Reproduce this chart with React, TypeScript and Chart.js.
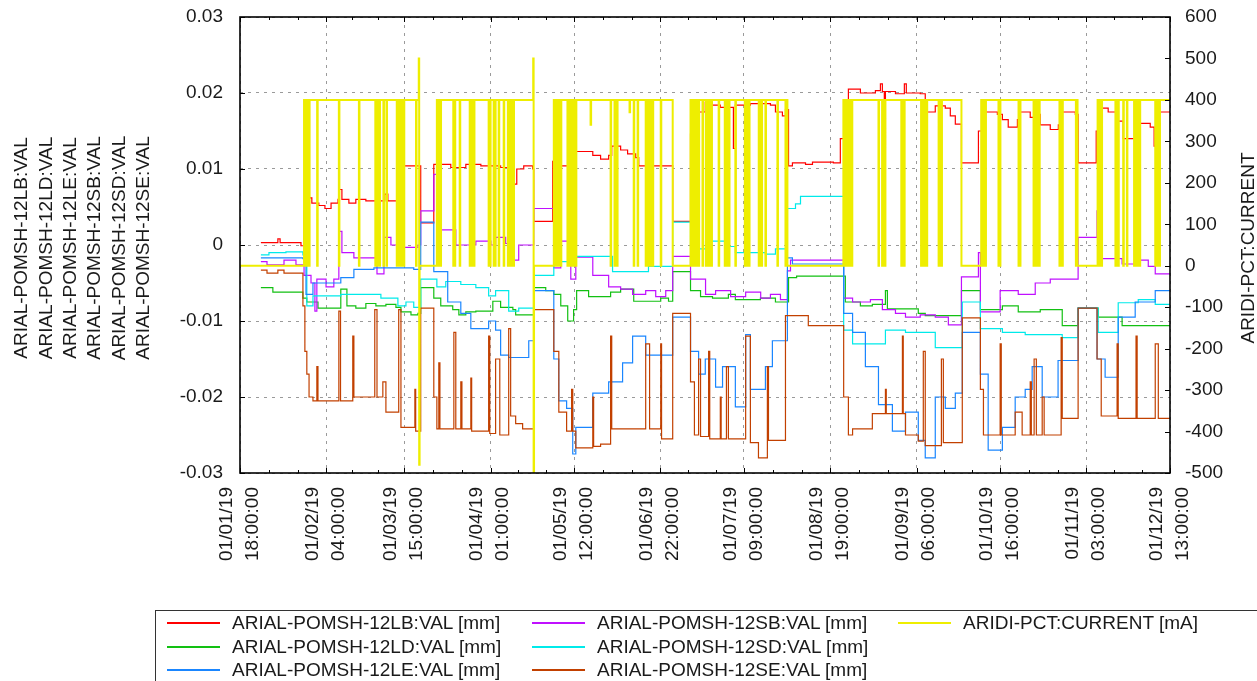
import React, { useEffect, useRef } from 'react';
import { Chart, registerables } from 'chart.js';

Chart.register(...registerables);

// ---------- tick labels (x axis: day of year 2019) ----------
const tickDays = [0, 31, 59, 90, 120, 151, 181, 212, 243, 273, 304, 334];
const tickDates = ['01/01/19', '01/02/19', '01/03/19', '01/04/19', '01/05/19', '01/06/19', '01/07/19', '01/08/19', '01/09/19', '01/10/19', '01/11/19', '01/12/19'];
const tickTimes = ['18:00:00', '04:00:00', '15:00:00', '01:00:00', '12:00:00', '22:00:00', '09:00:00', '19:00:00', '06:00:00', '16:00:00', '03:00:00', '13:00:00'];

const leftTitleLines = ['ARIAL-POMSH-12LB:VAL', 'ARIAL-POMSH-12LD:VAL', 'ARIAL-POMSH-12LE:VAL', 'ARIAL-POMSH-12SB:VAL', 'ARIAL-POMSH-12SD:VAL', 'ARIAL-POMSH-12SE:VAL'];
const rightTitle = 'ARIDI-PCT:CURRENT';

// ---------- series (day, mm) ----------
const lbPoints: [number, number][] = [
  [7.5, 0.0003], [13.6, 0.0008], [14.4, 0.0003], [21.9, -0.0001], [23.0, 0.0045], [24.0, 0.0062], [25.8, 0.0055], [28.3, 0.0052], [30.5, 0.0048], [32.7, 0.0055], [35.2, 0.0060], [35.5, 0.0073], [36.6, 0.0060], [39.1, 0.0055], [41.6, 0.0060], [45.2, 0.0058], [48.8, 0.0067], [49.9, 0.0058], [52.0, 0.0067], [53.1, 0.0058], [58.8, 0.0104], [64.9, 0.0029], [69.6, 0.0106], [75.7, 0.0102], [81.1, 0.0106], [86.5, 0.0104], [93.6, 0.0102], [98.3, 0.0080], [99.4, 0.0100], [101.9, 0.0104], [105.1, 0.0100], [105.5, 0.0031], [112.3, 0.0110], [114.5, 0.0104], [117.7, 0.0075], [118.4, 0.0104], [120.6, 0.0123], [126.7, 0.0118], [129.5, 0.0113], [132.4, 0.0118], [133.5, 0.0130], [136.7, 0.0125], [139.2, 0.0120], [142.1, 0.0115], [143.2, 0.0104], [155.4, 0.0031], [161.8, 0.0146], [164.3, 0.0175], [167.1, 0.0188], [169.6, 0.0184], [172.5, 0.0181], [177.2, 0.0127], [177.9, 0.0184], [183.3, 0.0186], [190.5, 0.0184], [192.3, 0.0175], [194.8, 0.0170], [195.9, 0.0178], [197.0, 0.0104], [198.4, 0.0108], [203.1, 0.0106], [205.6, 0.0109], [213.1, 0.0108], [215.6, 0.0140], [216.8, 0.0185], [218.5, 0.0205], [222.8, 0.0200], [228.2, 0.0203], [230.0, 0.0212], [230.7, 0.0202], [231.4, 0.0123], [231.8, 0.0202], [235.4, 0.0199], [238.6, 0.0212], [239.3, 0.0200], [244.3, 0.0199], [246.1, 0.0175], [249.7, 0.0183], [253.3, 0.0180], [255.1, 0.0170], [256.9, 0.0159], [259.1, 0.0108], [265.2, 0.0150], [266.6, 0.0160], [267.7, 0.0175], [272.0, 0.0172], [273.8, 0.0165], [275.9, 0.0155], [279.2, 0.0165], [280.2, 0.0175], [283.8, 0.0168], [285.2, 0.0140], [286.0, 0.0172], [287.4, 0.0158], [291.0, 0.0152], [293.9, 0.0158], [295.3, 0.0175], [300.0, 0.0172], [301.0, 0.0108], [307.5, 0.0150], [308.6, 0.0180], [311.8, 0.0175], [315.0, 0.0163], [317.2, 0.0140], [321.8, 0.0140], [322.6, 0.0160], [326.9, 0.0155], [328.3, 0.0130], [329.0, 0.0158], [330.1, 0.0175], [334, 0.0175],
];

const ldPoints: [number, number][] = [
  [7.5, -0.0056], [11.8, -0.0062], [22.6, -0.0070], [24.0, -0.0075], [28.0, -0.0083], [36.2, -0.0058], [38.4, -0.0080], [41.6, -0.0083], [45.2, -0.0077], [48.8, -0.0080], [52.4, -0.0078], [56.0, -0.0082], [57.8, -0.0088], [61.4, -0.0092], [63.9, -0.0090], [64.9, -0.0056], [69.6, -0.0070], [72.1, -0.0080], [76.4, -0.0085], [78.6, -0.0092], [81.1, -0.0088], [84.7, -0.0087], [90.8, -0.0074], [93.6, -0.0082], [98.0, -0.0085], [99.0, -0.0092], [105.5, -0.0056], [109.8, -0.0060], [112.7, -0.0065], [115.2, -0.0080], [117.7, -0.0100], [119.8, -0.0085], [120.9, -0.0060], [125.2, -0.0068], [133.1, -0.0062], [136.7, -0.0058], [141.4, -0.0074], [151.1, -0.0070], [153.9, -0.0074], [155.4, -0.0035], [161.8, -0.0060], [165.4, -0.0068], [169.7, -0.0070], [175.4, -0.0065], [177.9, -0.0072], [186.9, -0.0070], [192.3, -0.0075], [197.0, -0.0043], [199.9, -0.0041], [213.1, -0.0041], [217.4, -0.0075], [222.8, -0.0080], [227.1, -0.0078], [231.8, -0.0060], [232.5, -0.0084], [243.6, -0.0090], [246.1, -0.0093], [259.1, -0.0060], [265.9, -0.0085], [273.8, -0.0080], [279.5, -0.0088], [287.4, -0.0085], [295.3, -0.0106], [301.0, -0.0083], [308.2, -0.0095], [316.8, -0.0106], [334, -0.0106],
];

const lePoints: [number, number][] = [
  [7.5, -0.0017], [22.6, -0.0018], [23.7, -0.0065], [26.2, -0.0050], [36.2, -0.0043], [40.9, -0.0032], [48.1, -0.0030], [56.7, -0.0030], [62.4, -0.0032], [64.9, 0.0030], [69.6, -0.0035], [74.6, -0.0075], [79.3, -0.0090], [82.9, -0.0110], [89.3, -0.0100], [91.8, -0.0112], [93.6, -0.0145], [96.5, -0.0148], [103.7, -0.0126], [105.5, -0.0060], [112.7, -0.0150], [114.5, -0.0205], [117.3, -0.0215], [119.5, -0.0275], [120.6, -0.0240], [126.7, -0.0195], [132.4, -0.0180], [137.4, -0.0155], [141.0, -0.0120], [145.7, -0.0145], [155.4, -0.0095], [161.8, -0.0140], [164.7, -0.0170], [167.1, -0.0150], [170.8, -0.0187], [173.3, -0.0160], [177.9, -0.0213], [181.6, -0.0118], [183.3, -0.0190], [188.7, -0.0160], [191.2, -0.0126], [196.6, -0.0017], [198.4, -0.0025], [213.1, -0.0025], [216.8, -0.0090], [220.0, -0.0115], [224.6, -0.0160], [229.3, -0.0210], [234.3, -0.0245], [239.0, -0.0220], [243.6, -0.0257], [246.1, -0.0280], [249.7, -0.0200], [253.3, -0.0215], [256.9, -0.0195], [259.4, -0.0115], [265.9, -0.0170], [268.7, -0.0270], [273.8, -0.0240], [278.4, -0.0200], [282.0, -0.0190], [284.5, -0.0160], [288.1, -0.0200], [293.8, -0.0152], [301.0, -0.0083], [307.8, -0.0150], [310.7, -0.0174], [315.4, -0.0095], [321.5, -0.0075], [328.7, -0.0060], [334, -0.0060],
];

const sbPoints: [number, number][] = [
  [7.5, -0.0022], [9.7, -0.0026], [15.8, -0.0020], [20.1, -0.0026], [23.0, -0.0040], [25.5, -0.0050], [26.9, -0.0087], [27.6, -0.0045], [30.9, -0.0055], [33.7, -0.0045], [35.5, 0.0018], [36.6, -0.0010], [40.9, -0.0017], [49.2, -0.0038], [51.7, 0.0010], [54.2, 0.0000], [58.8, -0.0003], [63.9, 0.0000], [64.9, 0.0045], [69.6, 0.0093], [71.4, 0.0020], [77.5, 0.0000], [84.7, 0.0005], [90.1, 0.0000], [91.8, 0.0010], [95.4, 0.0002], [98.0, -0.0020], [100.1, 0.0000], [105.5, 0.0048], [112.7, -0.0030], [115.2, 0.0005], [118.8, -0.0045], [120.6, -0.0016], [126.7, -0.0040], [132.4, -0.0055], [136.7, -0.0058], [141.0, -0.0065], [145.7, -0.0060], [149.3, -0.0068], [152.9, -0.0060], [155.4, -0.0015], [161.8, -0.0045], [167.2, -0.0065], [170.8, -0.0060], [176.2, -0.0068], [181.6, -0.0062], [187.0, -0.0070], [190.5, -0.0065], [194.1, -0.0072], [196.6, -0.0034], [197.7, -0.0020], [213.1, -0.0020], [216.8, -0.0070], [220.0, -0.0075], [226.4, -0.0072], [230.7, -0.0085], [235.4, -0.0090], [239.0, -0.0095], [244.3, -0.0092], [249.7, -0.0095], [254.4, -0.0105], [259.1, -0.0042], [265.2, -0.0010], [265.9, -0.0088], [273.0, -0.0060], [279.5, -0.0065], [285.6, -0.0050], [291.0, -0.0045], [301.0, 0.0010], [307.8, 0.0045], [308.9, -0.0018], [316.8, -0.0025], [323.3, -0.0020], [326.2, -0.0028], [328.7, -0.0038], [334, -0.0038],
];

const sdPoints: [number, number][] = [
  [7.5, -0.0013], [10.4, -0.0010], [16.5, -0.0009], [22.6, -0.0013], [24.0, -0.0080], [26.2, -0.0067], [36.2, -0.0065], [50.6, -0.0070], [56.7, -0.0080], [59.6, -0.0075], [62.4, -0.0082], [64.9, -0.0045], [70.7, -0.0055], [73.9, -0.0048], [79.3, -0.0052], [84.7, -0.0056], [89.3, -0.0067], [91.8, -0.0060], [96.5, -0.0087], [100.1, -0.0083], [105.5, -0.0040], [112.7, -0.0022], [120.6, -0.0015], [133.8, -0.0035], [146.7, -0.0028], [155.4, 0.0030], [161.8, -0.0005], [167.2, 0.0005], [175.4, -0.0002], [177.9, -0.0010], [188.7, -0.0012], [192.3, -0.0005], [196.6, 0.0048], [199.5, 0.0054], [201.3, 0.0064], [213.1, 0.0064], [216.8, -0.0112], [220.0, -0.0130], [231.8, -0.0112], [239.0, -0.0115], [249.7, -0.0135], [259.4, -0.0075], [265.9, -0.0110], [273.8, -0.0115], [282.0, -0.0118], [295.3, -0.0122], [301.0, -0.0083], [308.2, -0.0115], [315.4, -0.0076], [322.6, -0.0072], [328.7, -0.0078], [334, -0.0078],
];

const sePoints: [number, number][] = [
  [7.5, -0.0033], [9.7, -0.0037], [13.6, -0.0033], [15.8, -0.0037], [22.6, -0.0080], [23.3, -0.0140], [24.0, -0.0170], [24.8, -0.0200], [26.2, -0.0205], [27.6, -0.0160], [28.0, -0.0205], [35.5, -0.0087], [36.1, -0.0205], [40.5, -0.0120], [40.9, -0.0200], [48.4, -0.0085], [49.2, -0.0200], [51.3, -0.0180], [52.4, -0.0220], [57.0, -0.0085], [57.8, -0.0240], [62.8, -0.0190], [63.1, -0.0245], [64.9, -0.0083], [69.6, -0.0200], [70.7, -0.0242], [71.4, -0.0155], [71.8, -0.0242], [76.8, -0.0115], [77.5, -0.0242], [79.3, -0.0180], [79.7, -0.0242], [82.9, -0.0175], [83.2, -0.0245], [89.3, -0.0120], [89.7, -0.0248], [91.8, -0.0150], [93.3, -0.0250], [96.5, -0.0110], [97.2, -0.0225], [99.0, -0.0235], [101.5, -0.0242], [105.5, -0.0085], [112.7, -0.0140], [114.5, -0.0220], [117.3, -0.0245], [119.1, -0.0190], [119.5, -0.0245], [120.6, -0.0267], [126.7, -0.0200], [127.0, -0.0265], [129.5, -0.0262], [133.1, -0.0120], [133.5, -0.0242], [145.7, -0.0130], [147.1, -0.0242], [151.1, -0.0130], [151.4, -0.0255], [155.4, -0.0090], [161.8, -0.0180], [163.2, -0.0250], [164.7, -0.0150], [165.4, -0.0252], [168.3, -0.0140], [168.7, -0.0255], [172.5, -0.0200], [172.8, -0.0255], [174.7, -0.0160], [175.4, -0.0255], [181.6, -0.0120], [183.3, -0.0260], [186.2, -0.0280], [189.4, -0.0160], [189.8, -0.0257], [195.9, -0.0093], [204.1, -0.0106], [213.1, -0.0106], [216.8, -0.0200], [218.5, -0.0250], [220.0, -0.0242], [227.1, -0.0222], [231.8, -0.0190], [232.1, -0.0222], [237.9, -0.0120], [238.2, -0.0222], [239.0, -0.0250], [243.6, -0.0258], [245.4, -0.0140], [246.1, -0.0264], [251.9, -0.0150], [252.6, -0.0260], [259.4, -0.0096], [265.9, -0.0190], [267.0, -0.0250], [273.0, -0.0130], [273.4, -0.0250], [278.4, -0.0220], [280.9, -0.0250], [283.8, -0.0180], [284.2, -0.0250], [285.2, -0.0150], [286.0, -0.0250], [288.1, -0.0200], [288.8, -0.0250], [294.9, -0.0122], [295.3, -0.0228], [301.0, -0.0083], [307.8, -0.0150], [309.3, -0.0225], [315.0, -0.0130], [315.4, -0.0228], [321.8, -0.0120], [322.2, -0.0228], [328.7, -0.0130], [329.8, -0.0228], [334, -0.0228],
];

// ---------- beam current (day, mA) ----------
const currentRuns: [number, number][] = [[23.0, 64.5], [70.7, 105.6], [112.7, 155.4], [161.8, 196.6], [216.7, 259.1], [266.2, 300.8], [308.0, 334]];
const currentDips: number[] = [
  23.3, 23.8, 24.3, 24.8, 27.7, 35.5, 42.7, 48.6, 49.1, 49.6, 50.1, 51.5, 52.6, 56.3, 56.8, 57.3, 57.8, 58.3, 58.8, 63.2,
  71.0, 71.5, 72.0, 76.6, 77.1, 78.9, 82.5, 83.0, 83.5, 84.0, 89.3, 89.8, 91.1, 91.6, 92.9, 94.7, 96.2, 96.7, 97.2, 97.7, 98.2,
  113.2, 113.7, 114.2, 114.7, 115.2, 117.6, 118.1, 118.6, 119.1, 119.6, 120.1, 120.6, 133.1, 134.5, 135.0, 135.4, 141.4, 142.8, 145.7, 146.2, 146.7, 147.2, 147.7, 148.2, 151.1,
  162.3, 162.8, 163.3, 163.8, 164.7, 166.1, 167.3, 167.8, 168.3, 168.8, 169.3, 171.9, 174.1, 174.6, 175.1, 175.6, 177.9, 181.3, 181.8, 182.3, 182.8, 186.3, 186.8, 187.3, 188.7, 193.0, 195.9,
  217.2, 217.7, 218.2, 218.7, 219.2, 219.7, 229.3, 230.6, 231.1, 231.6, 237.5, 238.0, 238.5, 244.6, 245.1, 245.6, 246.1, 246.6, 250.9, 251.4, 251.9,
  266.7, 267.2, 267.7, 272.4, 272.9, 279.6, 280.1, 285.0, 285.5, 286.0, 286.5, 287.0, 294.3, 294.8, 295.3, 300.2,
  308.4, 308.9, 309.4, 314.4, 314.9, 315.4, 317.2, 318.5, 321.1, 321.6, 322.1, 322.6, 323.1, 328.7, 329.2, 329.7, 330.2,
];
const currentPartialDips: [number, number][] = [[125.9, 340], [139.9, 370]];
const currentSpikes: [number, number, number][] = [[64.2, 500, -480], [105.3, 500, -520]];

const DIP_WIDTH = 0.2;
const XMAX = 334;

function buildCurrent() {
  const ev: { x: number; y: number }[] = [{ x: 0, y: 0 }];
  currentRuns.forEach(([s, e]) => {
    ev.push({ x: s, y: 400 });
    ev.push({ x: e, y: e >= XMAX ? 400 : 0 });
  });
  currentDips.forEach((d) => {
    ev.push({ x: d, y: 0 });
    ev.push({ x: d + DIP_WIDTH, y: 400 });
  });
  currentPartialDips.forEach(([d, v]) => {
    ev.push({ x: d, y: v });
    ev.push({ x: d + DIP_WIDTH, y: 400 });
  });
  currentSpikes.forEach(([d, hi, lo]) => {
    ev.push({ x: d, y: hi });
    ev.push({ x: d + 0.15, y: lo });
    ev.push({ x: d + 0.3, y: 0 });
  });
  return ev.sort((a, b) => a.x - b.x);
}

const toXY = (pts: [number, number][]) => pts.map(([x, y]) => ({ x, y }));

const series = [
  { name: 'ARIAL-POMSH-12LB:VAL [mm]', color: '#ff0000', points: lbPoints, col: 0, row: 0, order: 6 },
  { name: 'ARIAL-POMSH-12LD:VAL [mm]', color: '#12c012', points: ldPoints, col: 0, row: 1, order: 5 },
  { name: 'ARIAL-POMSH-12LE:VAL [mm]', color: '#1a86ff', points: lePoints, col: 0, row: 2, order: 2 },
  { name: 'ARIAL-POMSH-12SB:VAL [mm]', color: '#c010ff', points: sbPoints, col: 1, row: 0, order: 4 },
  { name: 'ARIAL-POMSH-12SD:VAL [mm]', color: '#00eaea', points: sdPoints, col: 1, row: 1, order: 3 },
  { name: 'ARIAL-POMSH-12SE:VAL [mm]', color: '#c24000', points: sePoints, col: 1, row: 2, order: 1 },
];
const currentSeries = { name: 'ARIDI-PCT:CURRENT [mA]', color: '#eeee00', col: 2, row: 0 };

const FONT = '"Liberation Sans", Arial, Helvetica, sans-serif';
const TEXT = '#1a1a1a';

const framePlugin = {
  id: 'frame',
  afterDatasetsDraw(chart: any) {
    const { ctx, chartArea: a, scales } = chart;
    const xs = scales.x;
    ctx.save();
    ctx.strokeStyle = '#000';
    ctx.lineWidth = 1;
    ctx.beginPath();
    tickDays.forEach((d, i) => {
      const px = Math.round(xs.getPixelForValue(d)) + 0.5;
      ctx.moveTo(px, a.bottom); ctx.lineTo(px, a.bottom - 5);
      ctx.moveTo(px, a.top); ctx.lineTo(px, a.top + 5);
      if (i < tickDays.length - 1) {
        const step = (tickDays[i + 1] - d) / 3;
        for (let k = 1; k < 3; k++) {
          const mx = Math.round(xs.getPixelForValue(d + step * k)) + 0.5;
          ctx.moveTo(mx, a.bottom); ctx.lineTo(mx, a.bottom - 3);
          ctx.moveTo(mx, a.top); ctx.lineTo(mx, a.top + 3);
        }
      }
    });
    scales.y.ticks.forEach((t: any) => {
      const py = Math.round(scales.y.getPixelForValue(t.value)) + 0.5;
      ctx.moveTo(a.left, py); ctx.lineTo(a.left + 5, py);
    });
    scales.y2.ticks.forEach((t: any) => {
      const py = Math.round(scales.y2.getPixelForValue(t.value)) + 0.5;
      ctx.moveTo(a.right, py); ctx.lineTo(a.right - 5, py);
    });
    ctx.stroke();
    ctx.lineWidth = 1.6;
    ctx.strokeRect(a.left, a.top, a.right - a.left, a.bottom - a.top);

    // axis titles
    ctx.fillStyle = TEXT;
    ctx.font = `19px ${FONT}`;
    ctx.textAlign = 'center';
    ctx.textBaseline = 'middle';
    const cy = (a.top + a.bottom) / 2 + 3;
    leftTitleLines.forEach((line, i) => {
      ctx.save();
      ctx.translate(22 + i * 24.4, cy);
      ctx.rotate(-Math.PI / 2);
      ctx.fillText(line, 0, 0);
      ctx.restore();
    });
    ctx.save();
    ctx.translate(a.right + 79, cy);
    ctx.rotate(-Math.PI / 2);
    ctx.fillText(rightTitle, 0, 0);
    ctx.restore();
    ctx.restore();
  },
};

const legendLineX = [167, 532, 898];
const legendTextX = [232, 597, 963];
const legendRowY = [623, 647, 670];

export default function App() {
  const ref = useRef<HTMLCanvasElement | null>(null);

  useEffect(() => {
    if (!ref.current) return;
    const datasets: any[] = series.map((s) => ({
      label: s.name,
      data: toXY(s.points),
      borderColor: s.color,
      backgroundColor: s.color,
      borderWidth: 1.2,
      pointRadius: 0,
      stepped: true,
      fill: false,
      yAxisID: 'y',
      order: s.order,
    }));
    datasets.push({
      label: currentSeries.name,
      data: buildCurrent(),
      borderColor: currentSeries.color,
      backgroundColor: currentSeries.color,
      borderWidth: 2,
      pointRadius: 0,
      stepped: true,
      fill: false,
      yAxisID: 'y2',
      order: 0,
    });

    const chart = new Chart(ref.current, {
      type: 'line',
      data: { datasets },
      plugins: [framePlugin],
      options: {
        animation: false,
        responsive: false,
        events: [],
        layout: { padding: { top: 17, left: 0, right: 0, bottom: 0 } },
        plugins: { legend: { display: false }, tooltip: { enabled: false } },
        scales: {
          x: {
            type: 'linear',
            min: 0,
            max: XMAX,
            afterBuildTicks: (scale: any) => {
              scale.ticks = tickDays.map((v) => ({ value: v }));
            },
            afterFit: (scale: any) => {
              scale.height = 208;
            },
            ticks: {
              autoSkip: false,
              minRotation: 90,
              maxRotation: 90,
              padding: 14,
              labelOffset: -13.5,
              color: TEXT,
              font: { family: FONT, size: 19, lineHeight: 1.37 },
              callback: (_v: any, i: number) => [tickDates[i], tickTimes[i]],
            },
            grid: { color: '#9a9a9a', lineWidth: 1, drawTicks: false },
            border: { display: false, dash: [3, 5] },
          },
          y: {
            position: 'left',
            min: -0.03,
            max: 0.03,
            afterFit: (scale: any) => {
              scale.width = 240;
              scale.paddingTop = 0;
              scale.paddingBottom = 0;
            },
            ticks: {
              stepSize: 0.01,
              padding: 17,
              color: TEXT,
              font: { family: FONT, size: 19 },
            },
            grid: { color: '#9a9a9a', lineWidth: 1, drawTicks: false },
            border: { display: false, dash: [3, 5] },
          },
          y2: {
            position: 'right',
            min: -500,
            max: 600,
            afterFit: (scale: any) => {
              scale.width = 87;
              scale.paddingTop = 0;
              scale.paddingBottom = 0;
            },
            ticks: {
              stepSize: 100,
              padding: 15,
              color: TEXT,
              font: { family: FONT, size: 19 },
            },
            grid: { display: false, drawTicks: false },
            border: { display: false },
          },
        },
      },
    });
    return () => chart.destroy();
  }, []);

  const legendItems = [
    ...series.map((s) => ({ name: s.name, color: s.color, col: s.col, row: s.row })),
    currentSeries,
  ];

  return (
    <div style={{ position: 'fixed', left: 0, top: 0, width: 1257, height: 681, overflow: 'hidden', background: '#fff' }}>
      <canvas ref={ref} width={1257} height={681} style={{ position: 'absolute', left: 0, top: 0, width: 1257, height: 681 }} />
      <div style={{ position: 'absolute', left: 155, top: 610, width: 1130, height: 100, border: '1.5px solid #333', boxSizing: 'border-box' }} />
      {legendItems.map((it) => (
        <React.Fragment key={it.name}>
          <div style={{ position: 'absolute', left: legendLineX[it.col], top: legendRowY[it.row] - 1, width: 53, height: 1.5, background: it.color }} />
          <div style={{ position: 'absolute', left: legendTextX[it.col], top: legendRowY[it.row] - 12, height: 24, lineHeight: '24px', fontFamily: FONT, fontSize: 19, color: TEXT, whiteSpace: 'nowrap' }}>
            {it.name}
          </div>
        </React.Fragment>
      ))}
    </div>
  );
}
